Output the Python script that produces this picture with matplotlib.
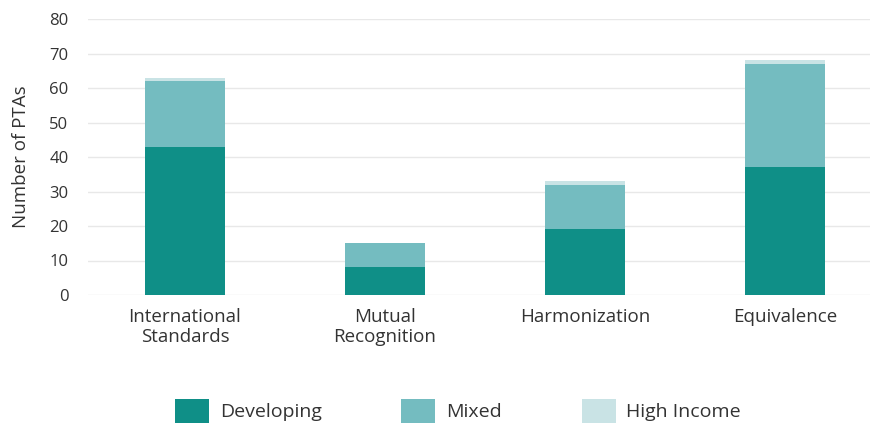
import matplotlib
matplotlib.use("Agg")
import matplotlib.pyplot as plt
from matplotlib.patches import Patch

plt.rcParams['font.family'] = ['Open Sans', 'DejaVu Sans']

categories = ["International\nStandards", "Mutual\nRecognition", "Harmonization", "Equivalence"]
developing = [43, 8, 19, 37]
mixed = [19, 7, 13, 30]
high_income = [1, 0, 1, 1]
y_ticks = [0, 10, 20, 30, 40, 50, 60, 70, 80]

col_dev = "#0f8f87"
col_mix = "#74bcc0"
col_high = "#c9e3e5"
txt = "#333333"

fig = plt.figure(figsize=(8.81, 4.36), dpi=100)
ax = fig.add_axes([88/881, 1-295/436, 782/881, 276/436])

x = list(range(len(categories)))
w = 0.4
ax.bar(x, developing, width=w, color=col_dev, zorder=3)
ax.bar(x, mixed, width=w, bottom=developing, color=col_mix, zorder=3)
base3 = [d + m for d, m in zip(developing, mixed)]
ax.bar(x, high_income, width=w, bottom=base3, color=col_high, zorder=3)

ax.set_xlim(-0.485, 3.425)
ax.set_ylim(0, 80)
ax.set_yticks(y_ticks)
ax.set_xticks(x)
ax.set_xticklabels(categories, fontsize=13.5, color=txt, linespacing=1.15)
ax.tick_params(axis='y', labelsize=12, colors=txt, length=0, pad=14)
ax.tick_params(axis='x', length=0, pad=9)
ax.grid(axis='y', color="#e8e8e8", linewidth=1, zorder=0)
for s in ax.spines.values():
    s.set_visible(False)
ax.set_ylabel("Number of PTAs", fontsize=13.5, color=txt, labelpad=14)

handles = [Patch(facecolor=col_dev, label="Developing"),
           Patch(facecolor=col_mix, label="Mixed"),
           Patch(facecolor=col_high, label="High Income")]
fig.legend(handles=handles, loc='center', bbox_to_anchor=(458/881, 1-411/436), ncol=3,
           frameon=False, fontsize=14, handlelength=1.75, handleheight=1.45,
           columnspacing=4.1, handletextpad=0.55, labelcolor=txt)

fig.savefig("out.png", dpi=100, facecolor="white")
